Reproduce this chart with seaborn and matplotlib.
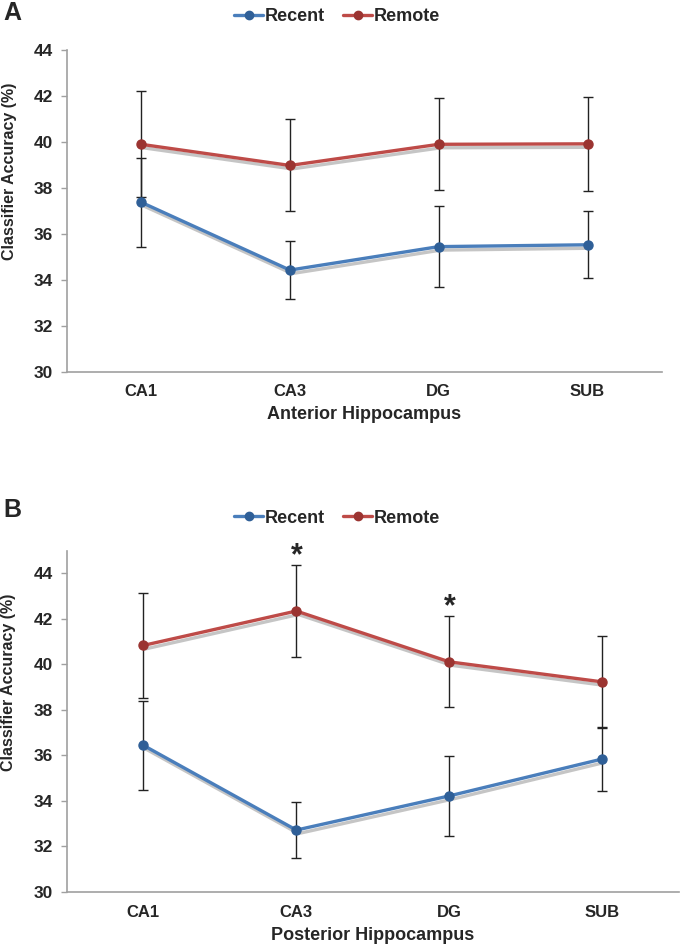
import matplotlib
matplotlib.use('Agg')
import matplotlib.pyplot as plt
import matplotlib.patheffects as pe
from matplotlib.lines import Line2D
import seaborn as sns
import pandas as pd

# values
regions = ['CA1', 'CA3', 'DG', 'SUB']
ant_recent = [37.38, 34.43, 35.45, 35.53]
ant_recent_err = [1.94, 1.25, 1.75, 1.45]
ant_remote = [39.90, 38.98, 39.90, 39.92]
ant_remote_err = [2.30, 2.00, 2.00, 2.03]
post_recent = [36.44, 32.72, 34.22, 35.84]
post_recent_err = [1.96, 1.23, 1.77, 1.42]
post_remote = [40.82, 42.33, 40.10, 39.22]
post_remote_err = [2.30, 2.00, 2.00, 2.00]
sig_regions = ['CA3', 'DG']   # starred in posterior panel
yticks = [30, 32, 34, 36, 38, 40, 42, 44]

blue = '#4a7ebb'
red = '#be4b48'
blue_dark = '#2f5f97'
red_dark = '#9b3431'
spine_col = '#a0a0a0'

sns.set_style('white')
sans = ['Liberation Sans', 'DejaVu Sans']
plt.rcParams['font.family'] = sans
plt.rcParams['font.weight'] = 'bold'


def make_df(recent, recent_err, remote, remote_err):
    rows = []
    for name, vals, errs in [('Recent', recent, recent_err), ('Remote', remote, remote_err)]:
        for r, v, e in zip(regions, vals, errs):
            rows.append({'region': r, 'acc': v, 'err': e, 'memory': name})
    return pd.DataFrame(rows)


def draw_panel(ax, df, xlabel, ytop, ylab_pos):
    sns.lineplot(data=df, x='region', y='acc', hue='memory',
                 palette={'Recent': blue, 'Remote': red}, sort=False,
                 linewidth=2.4, legend=False, ax=ax, zorder=3)
    shadow = [pe.SimpleLineShadow(offset=(1.5, -2.5), shadow_color='0.55', alpha=0.5),
              pe.Normal()]
    for ln in ax.lines:
        ln.set_path_effects(shadow)

    for name, dark in [('Recent', blue_dark), ('Remote', red_dark)]:
        sub = df[df['memory'] == name]
        xs = [regions.index(r) for r in sub['region']]
        ax.errorbar(xs, sub['acc'], yerr=sub['err'], fmt='none', ecolor='#222222',
                    elinewidth=1.0, capsize=3.5, capthick=1.0, zorder=4)
        ax.plot(xs, sub['acc'], 'o', ms=6.5, color=dark, mec=dark, zorder=5)

    ax.set_xlim(-0.5, 3.5)
    ax.set_ylim(30, ytop)
    ax.set_yticks(yticks)
    ax.set_xticks(range(len(regions)))
    ax.set_xticklabels(regions)
    ax.set_xticks([0.5, 1.5, 2.5, 3.5], minor=True)
    ax.tick_params(axis='x', which='major', length=0, pad=9, labelsize=12)
    ax.tick_params(axis='x', which='minor', length=4, color=spine_col, width=1)
    ax.tick_params(axis='y', length=4, color=spine_col, width=1, pad=6, labelsize=12.5,
                   left=True)
    for s in ['top', 'right']:
        ax.spines[s].set_visible(False)
    for s in ['left', 'bottom']:
        ax.spines[s].set_color(spine_col)
        ax.spines[s].set_linewidth(1.2)
    ax.set_xlabel(xlabel, fontsize=13, fontweight='bold', labelpad=5)
    ax.set_ylabel('Classifier Accuracy (%)', fontsize=11.5, fontweight='bold')
    ax.yaxis.set_label_coords(-0.083, ylab_pos)


fig = plt.figure(figsize=(6.81, 9.44), dpi=100)
ax_a = fig.add_axes([0.098, 0.606, 0.874, 0.341])
ax_b = fig.add_axes([0.098, 0.055, 0.899, 0.361])

df_a = make_df(ant_recent, ant_recent_err, ant_remote, ant_remote_err)
df_b = make_df(post_recent, post_recent_err, post_remote, post_remote_err)
draw_panel(ax_a, df_a, 'Anterior Hippocampus', 44, 0.624)
draw_panel(ax_b, df_b, 'Posterior Hippocampus', 44.95, 0.615)

# significance stars
for r in sig_regions:
    i = regions.index(r)
    top = post_remote[i] + post_remote_err[i]
    ax_b.text(i, top - 0.25, '*', ha='center', va='bottom', fontsize=22,
              fontweight='bold', clip_on=False)

handles = [Line2D([], [], color=blue, lw=2.4, marker='o', ms=6, mfc=blue_dark, mec=blue_dark),
           Line2D([], [], color=red, lw=2.4, marker='o', ms=6, mfc=red_dark, mec=red_dark)]
for ypos in [0.982, 0.451]:
    fig.legend(handles, ['Recent', 'Remote'], loc='center', bbox_to_anchor=(0.495, ypos),
               ncol=2, frameon=False, handlelength=1.6, handletextpad=0.1,
               columnspacing=1.0, prop={'size': 13, 'weight': 'bold'})

fig.text(0.005, 0.986, 'A', fontsize=18, fontweight='bold', va='center')
fig.text(0.005, 0.460, 'B', fontsize=18, fontweight='bold', va='center')

fig.savefig('out.png', dpi=100)
